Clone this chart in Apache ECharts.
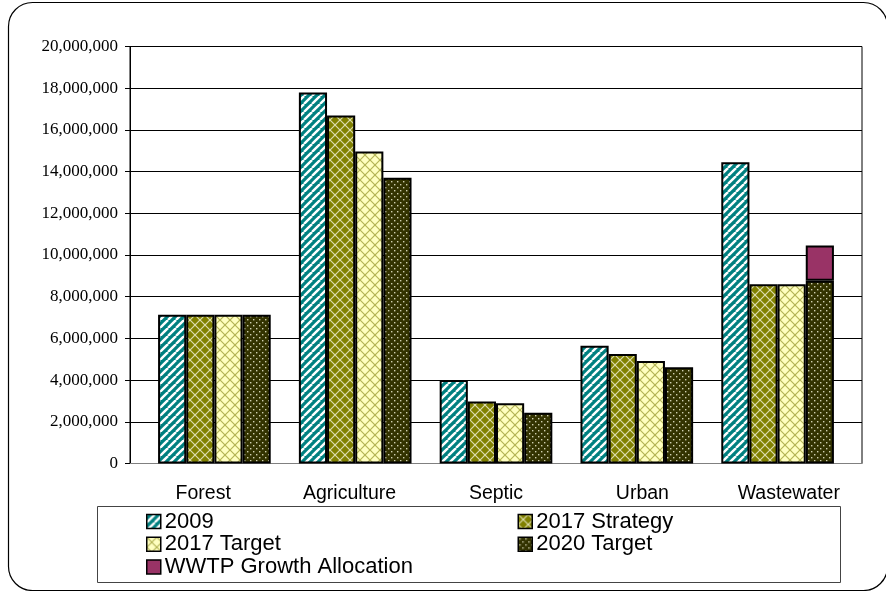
<!DOCTYPE html>
<html><head><meta charset="utf-8">
<script src="https://cdn.jsdelivr.net/npm/echarts@6/dist/echarts.min.js"></script>
<style>html,body{margin:0;padding:0;background:#fff}#c{width:886px;height:591px}</style>
</head><body><div id="c"></div>
<script>
const categories = ['Forest', 'Agriculture', 'Septic', 'Urban', 'Wastewater'];
const s2009 = [7130000, 17790000, 4010000, 5650000, 14450000];
const s2017Strategy = [7130000, 16690000, 2970000, 5250000, 8600000];
const s2017Target = [7130000, 14960000, 2890000, 4920000, 8600000];
const s2020Target = [7130000, 13710000, 2440000, 4620000, 8760000];
const wwtpGrowth = ['-', '-', '-', '-', 1690000];
const yTicks = { min: 0, max: 20000000, interval: 2000000 };

function tile(w, h, draw) {
  const c = document.createElement('canvas');
  c.width = w; c.height = h;
  draw(c.getContext('2d'), w, h);
  return c;
}
const stripe = tile(8, 8, (g, w, h) => {
  g.fillStyle = '#008080'; g.fillRect(0, 0, w, h);
  g.strokeStyle = '#ffffff'; g.lineWidth = 2.4;
  for (let k = -1; k <= 1; k++) {
    g.beginPath(); g.moveTo(k * 8, 8); g.lineTo(k * 8 + 8, 0); g.stroke();
  }
});
function hatch(bg, fg) {
  return tile(10, 10, (g, w, h) => {
    g.fillStyle = bg; g.fillRect(0, 0, w, h);
    g.strokeStyle = fg; g.lineWidth = 1.2;
    g.beginPath(); g.moveTo(0, 0); g.lineTo(10, 10); g.stroke();
    g.beginPath(); g.moveTo(10, 0); g.lineTo(0, 10); g.stroke();
  });
}
const hatchStrategy = hatch('#808000', '#dcdcae');
const hatchTarget = hatch('#ffffc0', '#b4b455');
const dots = tile(6, 6, (g, w, h) => {
  g.fillStyle = '#333300'; g.fillRect(0, 0, w, h);
  g.fillStyle = '#d0d0b0';
  g.fillRect(1, 1, 1.4, 1.4);
  g.fillRect(4, 4, 1.4, 1.4);
});

const border = { borderColor: '#000', borderWidth: 2 };
function bar(name, data, img, stack) {
  const s = {
    name, type: 'bar', data, xAxisIndex: 1, yAxisIndex: 1,
    itemStyle: Object.assign({ color: { image: img, repeat: 'repeat' } }, border),
    barGap: '0%', barCategoryGap: '20%'
  };
  if (stack) s.stack = stack;
  return s;
}
const legendText = { fontFamily: 'Liberation Sans, Arial', fontSize: 22, lineHeight: 22, color: '#000', padding: [0, 0, 0, -1] };

const chart = echarts.init(document.getElementById('c'), null, { renderer: 'canvas' });
chart.setOption({
  animation: false,
  backgroundColor: '#fff',
  grid: [
    { left: 130, right: 24, top: 46.5, bottom: 127.5, show: true, borderColor: '#000', borderWidth: 1 },
    { left: 144, right: 38, top: 46.5, bottom: 127.5 }
  ],
  xAxis: [
    { type: 'category', gridIndex: 0, data: categories,
      axisLine: { lineStyle: { color: '#808080', width: 1 } }, axisTick: { show: false },
      axisLabel: { fontFamily: 'Liberation Sans, Arial', fontSize: 19.5, color: '#000', margin: 20 } },
    { type: 'category', gridIndex: 1, data: categories, show: false }
  ],
  yAxis: [
    {
      type: 'value', gridIndex: 0, min: yTicks.min, max: yTicks.max, interval: yTicks.interval,
      axisLine: { show: true, lineStyle: { color: '#000' } },
      axisTick: { show: true, length: 5, lineStyle: { color: '#000' } },
      splitLine: { lineStyle: { color: '#000', width: 1 } },
      axisLabel: {
        fontFamily: 'Liberation Serif, Times New Roman', fontSize: 17, color: '#000', margin: 12,
        formatter: v => v.toLocaleString('en-US')
      }
    },
    { type: 'value', gridIndex: 1, min: yTicks.min, max: yTicks.max, interval: yTicks.interval, show: false }
  ],
  legend: [
    {
      data: ['2009', '2017 Target', 'WWTP Growth Allocation'],
      orient: 'vertical', left: 146, top: 510.5, padding: 0, itemWidth: 14, itemHeight: 14, itemGap: 0.7,
      icon: 'rect', textStyle: legendText,
      itemStyle: { borderColor: '#000', borderWidth: 1.5 }
    },
    {
      data: ['2017 Strategy', '2020 Target'],
      orient: 'vertical', left: 517.5, top: 510.5, padding: 0, itemWidth: 14, itemHeight: 14, itemGap: 0.7,
      icon: 'rect', textStyle: legendText,
      itemStyle: { borderColor: '#000', borderWidth: 1.5 }
    }
  ],
  graphic: [
    { type: 'rect', shape: { x: 8.5, y: 2.5, width: 879, height: 588, r: 24 }, style: { fill: null, stroke: '#000', lineWidth: 1.2 }, z: 100 },
    { type: 'rect', shape: { x: 97.5, y: 506.5, width: 743, height: 76 }, style: { fill: null, stroke: '#444', lineWidth: 1 }, z: 100 }
  ],
  series: [
    bar('2009', s2009, stripe),
    bar('2017 Strategy', s2017Strategy, hatchStrategy),
    bar('2017 Target', s2017Target, hatchTarget),
    bar('2020 Target', s2020Target, dots, 'w'),
    Object.assign(bar('WWTP Growth Allocation', wwtpGrowth, null, 'w'), { itemStyle: Object.assign({ color: '#993366' }, border) })
  ]
});
</script></body></html>
